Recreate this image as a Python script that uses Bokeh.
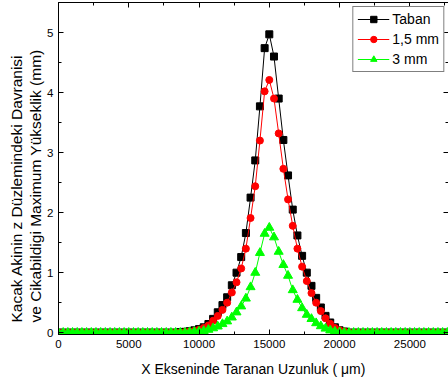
from bokeh.plotting import figure
from bokeh.models import (Range1d, LinearAxis, SingleIntervalTicker, Legend, LegendItem,
                          ColumnDataSource, Title)
from bokeh.embed import file_html
from bokeh.resources import INLINE

# Scanned length along X (micrometres)
x_um = [0, 333, 667, 1000, 1333, 1667, 2000, 2333, 2667, 3000, 3333, 3667,
        4000, 4333, 4667, 5000, 5333, 5667, 6000, 6333, 6667, 7000, 7333, 7667,
        8000, 8333, 8667, 9000, 9333, 9667, 10000, 10333, 10667, 11000, 11333, 11667,
        12000, 12333, 12667, 13000, 13333, 13667, 14000, 14333, 14667, 15000, 15333, 15667,
        16000, 16333, 16667, 17000, 17333, 17667, 18000, 18333, 18667, 19000, 19333, 19667,
        20000, 20333, 20667, 21000, 21333, 21667, 22000, 22333, 22667, 23000, 23333, 23667,
        24000, 24333, 24667, 25000, 25333, 25667, 26000, 26333, 26667, 27000, 27333, 27667]

# "Taban"
taban = [0, 0, 0, 0, 0, 0, 0, 0, 0, 0, 0, 0,
         0, 0, 0, 0, 0, 0, 0, 0, 0, 0, 0, 0,
         0, 0, 0.01, 0.015, 0.025, 0.04, 0.06, 0.09, 0.145, 0.23, 0.34, 0.46,
         0.59, 0.79, 1.00, 1.26, 1.66, 2.25, 2.87, 3.77, 4.74, 4.97, 4.60, 3.90,
         3.21, 2.62, 2.05, 1.62, 1.28, 1.00, 0.78, 0.58, 0.42, 0.28, 0.17, 0.09,
         0.04, 0.02, 0, 0, 0, 0, 0, 0, 0, 0, 0, 0,
         0, 0, 0, 0, 0, 0, 0, 0, 0, 0, 0, 0]

# "1,5 mm"
mm15 = [0, 0, 0, 0, 0, 0, 0, 0, 0, 0, 0, 0,
        0, 0, 0, 0, 0, 0, 0, 0, 0, 0, 0, 0,
        0, 0, 0, 0.01, 0.02, 0.03, 0.05, 0.08, 0.12, 0.20, 0.28, 0.38,
        0.50, 0.67, 0.84, 1.07, 1.40, 1.91, 2.44, 3.20, 4.02, 4.21, 3.90, 3.32,
        2.73, 2.22, 1.78, 1.40, 1.10, 0.86, 0.66, 0.50, 0.36, 0.24, 0.15, 0.08,
        0.04, 0.02, 0, 0, 0, 0, 0, 0, 0, 0, 0, 0,
        0, 0, 0, 0, 0, 0, 0, 0, 0, 0, 0, 0]

# "3 mm"
mm3 = [0, 0, 0, 0, 0, 0, 0, 0, 0, 0, 0, 0,
       0, 0, 0, 0, 0, 0, 0, 0, 0, 0, 0, 0,
       0, 0, 0, 0, 0.01, 0.015, 0.02, 0.03, 0.05, 0.075, 0.105, 0.145,
       0.19, 0.255, 0.34, 0.44, 0.57, 0.76, 1.00, 1.33, 1.65, 1.75, 1.59, 1.35,
       1.13, 0.95, 0.71, 0.55, 0.41, 0.30, 0.23, 0.16, 0.11, 0.07, 0.04, 0.02,
       0.01, 0, 0, 0, 0, 0, 0, 0, 0, 0, 0, 0,
       0, 0, 0, 0, 0, 0, 0, 0, 0, 0, 0, 0]

series_names = ["Taban", "1,5 mm", "3 mm"]
y_title_lines = ["Kacak Akinin z Düzlemindeki Davranisi",
                 "ve Cikabildigi Maximum Yükseklik (mm)"]
x_title = "X Ekseninde Taranan Uzunluk ( μm)"
x_ticks_interval = 5000
y_ticks_interval = 1

FONT = "Liberation Sans"

src = ColumnDataSource(dict(x=x_um, taban=taban, mm15=mm15, mm3=mm3))

p = figure(width=448, height=387, output_backend="svg", toolbar_location=None,
           x_range=Range1d(0, 27750), y_range=Range1d(-0.03, 5.5),
           min_border_left=58, min_border_right=0, min_border_top=2, min_border_bottom=53,
           background_fill_color="white", border_fill_color="white")
p.outline_line_color = None
p.xgrid.visible = False
p.ygrid.visible = False

def style_axis(ax, labels=True):
    ax.axis_line_color = "black"
    ax.axis_line_width = 1
    ax.major_tick_line_color = "black"
    ax.minor_tick_line_color = "black"
    ax.major_tick_in = 5
    ax.major_tick_out = 0
    ax.minor_tick_in = 3
    ax.minor_tick_out = 0
    ax.major_label_text_font = FONT
    ax.axis_label_text_font = FONT
    ax.axis_label_text_font_style = "normal"
    ax.axis_label_text_color = "black"
    if labels:
        ax.major_label_text_color = "black"
        ax.major_label_text_font_size = "11.5px"
    else:
        ax.major_label_text_color = None
        ax.major_label_text_font_size = "0px"
        ax.major_label_standoff = 0

xt = SingleIntervalTicker(interval=x_ticks_interval, num_minor_ticks=2)
yt = SingleIntervalTicker(interval=y_ticks_interval, num_minor_ticks=2)

p.xaxis.ticker = xt
p.yaxis.ticker = yt
style_axis(p.xaxis[0])
style_axis(p.yaxis[0])
p.xaxis.major_label_standoff = 5
p.yaxis.major_label_standoff = 5
p.xaxis.axis_label = x_title
p.xaxis.axis_label_text_font_size = "14px"
p.xaxis.axis_label_standoff = 10

top_ax = LinearAxis(ticker=SingleIntervalTicker(interval=x_ticks_interval, num_minor_ticks=2))
style_axis(top_ax, labels=False)
p.add_layout(top_ax, "above")

right_ax = LinearAxis(ticker=SingleIntervalTicker(interval=y_ticks_interval, num_minor_ticks=2))
style_axis(right_ax, labels=False)
right_ax.axis_line_color = None
p.add_layout(right_ax, "right")

# Two-line y title as two vertical titles on the left, starting a little above the frame bottom
for txt in [y_title_lines[1], y_title_lines[0]]:
    p.add_layout(Title(text=txt, align="left", offset=12, standoff=0,
                       vertical_align="middle", text_font=FONT, text_font_size="15.5px",
                       text_font_style="normal", text_color="black"), "left")

l1 = p.line("x", "taban", source=src, line_color="black", line_width=1)
s1 = p.scatter("x", "taban", source=src, marker="square", size=7,
               fill_color="black", line_color="black")
l2 = p.line("x", "mm15", source=src, line_color="red", line_width=1)
s2 = p.scatter("x", "mm15", source=src, marker="circle", size=7,
               fill_color="red", line_color="red")
l3 = p.line("x", "mm3", source=src, line_color="#00ff00", line_width=1)
s3 = p.scatter("x", "mm3", source=src, marker="triangle", size=9,
               fill_color="#00ff00", line_color="#00ff00")

legend = Legend(items=[
    LegendItem(label=series_names[0], renderers=[l1, s1]),
    LegendItem(label=series_names[1], renderers=[l2, s2]),
    LegendItem(label=series_names[2], renderers=[l3, s3]),
], location="top_right")
legend.margin = 4
legend.padding = 4
legend.spacing = 4
legend.glyph_width = 32
legend.glyph_height = 16
legend.label_height = 16
legend.label_standoff = 3
legend.label_text_font = FONT
legend.label_text_font_size = "14px"
legend.label_text_color = "black"
legend.border_line_color = "black"
legend.border_line_width = 1
legend.background_fill_color = "white"
legend.background_fill_alpha = 1
p.add_layout(legend)

open("out.html", "w").write(file_html(p, INLINE))
